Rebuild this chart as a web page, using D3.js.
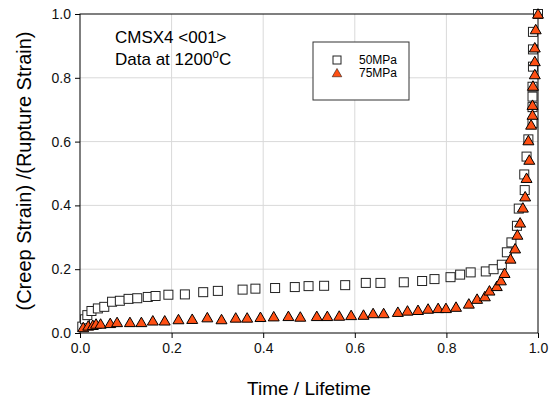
<!DOCTYPE html>
<html>
<head>
<meta charset="utf-8">
<script src="https://cdn.jsdelivr.net/npm/d3@7"></script>
<style>
  body { margin: 0; background: #fff; }
  text { font-family: Arial, "Liberation Sans", sans-serif; }
</style>
</head>
<body>
<svg width="550" height="399"></svg>
<script>
// series: time fraction / strain fraction
var t50 = [0.005, 0.011, 0.016, 0.025, 0.039, 0.053, 0.070, 0.087, 0.106, 0.125, 0.148, 0.165, 0.193, 0.229, 0.269, 0.301, 0.355, 0.383, 0.426, 0.469, 0.499, 0.533, 0.579, 0.624, 0.656, 0.707, 0.747, 0.774, 0.809, 0.830, 0.853, 0.886, 0.903, 0.921, 0.932, 0.942, 0.954, 0.958, 0.971, 0.970, 0.975, 0.979, 0.988, 0.988, 0.988, 0.988, 0.989, 0.989, 0.989, 1.0]
var v50 = [0.020, 0.043, 0.056, 0.069, 0.077, 0.082, 0.098, 0.101, 0.107, 0.109, 0.113, 0.116, 0.120, 0.121, 0.128, 0.132, 0.136, 0.139, 0.141, 0.144, 0.147, 0.148, 0.150, 0.157, 0.157, 0.159, 0.163, 0.169, 0.175, 0.183, 0.190, 0.193, 0.200, 0.214, 0.253, 0.284, 0.336, 0.390, 0.448, 0.497, 0.553, 0.607, 0.658, 0.708, 0.741, 0.772, 0.835, 0.889, 0.944, 1.0]

var t75 = [0.007, 0.018, 0.028, 0.035, 0.045, 0.066, 0.081, 0.109, 0.134, 0.159, 0.185, 0.215, 0.245, 0.278, 0.309, 0.340, 0.365, 0.394, 0.423, 0.455, 0.481, 0.517, 0.540, 0.566, 0.592, 0.619, 0.640, 0.663, 0.694, 0.715, 0.738, 0.760, 0.782, 0.799, 0.821, 0.849, 0.867, 0.884, 0.894, 0.910, 0.919, 0.927, 0.940, 0.950, 0.955, 0.961, 0.967, 0.972, 0.975, 0.981, 0.979, 0.985, 0.988, 0.988, 0.989, 0.993, 0.993, 0.993, 0.995, 1.0]
var v75 = [0.017, 0.022, 0.024, 0.028, 0.028, 0.030, 0.033, 0.033, 0.033, 0.038, 0.038, 0.042, 0.043, 0.048, 0.042, 0.047, 0.047, 0.049, 0.051, 0.052, 0.050, 0.052, 0.052, 0.053, 0.055, 0.056, 0.061, 0.061, 0.065, 0.069, 0.071, 0.075, 0.077, 0.077, 0.081, 0.091, 0.106, 0.114, 0.132, 0.146, 0.164, 0.187, 0.232, 0.264, 0.307, 0.345, 0.392, 0.427, 0.485, 0.542, 0.603, 0.652, 0.683, 0.714, 0.774, 0.810, 0.851, 0.894, 0.951, 1.0]

var ticks = [0, 0.2, 0.4, 0.6, 0.8, 1.0]
var seriesNames = ['50MPa', '75MPa']

var svg = d3.select('svg')
var mLeft = 80, mTop = 14, w = 458, h = 319

var x = d3.scaleLinear().domain([0, 1]).range([mLeft, mLeft + w])
var y = d3.scaleLinear().domain([0, 1]).range([mTop + h, mTop])

// grid
svg.append('g').selectAll('line').data(ticks.slice(1, -1)).enter().append('line')
  .attr('x1', (d) => x(d)).attr('x2', (d) => x(d))
  .attr('y1', mTop).attr('y2', mTop + h)
  .style('stroke', '#d9d9d9')
svg.append('g').selectAll('line').data(ticks.slice(1, -1)).enter().append('line')
  .attr('y1', (d) => y(d)).attr('y2', (d) => y(d))
  .attr('x1', mLeft).attr('x2', mLeft + w)
  .style('stroke', '#d9d9d9')

// frame
svg.append('rect').attr('x', mLeft).attr('y', mTop).attr('width', w).attr('height', h)
  .style('fill', 'none').style('stroke', '#000')

var xAxis = svg.append('g').attr('transform', 'translate(0,' + (mTop + h) + ')')
  .call(d3.axisBottom(x).tickValues(ticks).tickFormat(d3.format('.1f')).tickSize(5).tickSizeOuter(0))
var yAxis = svg.append('g').attr('transform', 'translate(' + mLeft + ',0)')
  .call(d3.axisLeft(y).tickValues(ticks).tickFormat(d3.format('.1f')).tickSize(5).tickSizeOuter(0))
;[xAxis, yAxis].forEach((g) => {
  g.attr('font-family', null)
  g.select('.domain').remove()
  g.selectAll('text').style('font-size', '14px').style('fill', '#111')
})
xAxis.selectAll('text').attr('y', 10)
yAxis.selectAll('text').attr('x', -9)

// markers
var tri = d3.symbol().type(d3.symbolTriangle).size(52)

svg.append('g').selectAll('rect')
  .data(d3.range(t50.length))
  .enter().append('rect')
  .attr('x', (i) => x(t50[i]) - 4.5)
  .attr('y', (i) => y(v50[i]) - 4.5)
  .attr('width', 9).attr('height', 9)
  .style('fill', '#fff').style('stroke', '#222')

svg.append('g').selectAll('path')
  .data(d3.range(t75.length))
  .enter().append('path')
  .attr('d', tri)
  .attr('transform', (i) => 'translate(' + x(t75[i]) + ',' + (y(v75[i]) + 1) + ')')
  .style('fill', '#ff5014').style('stroke', '#000')

// axis titles
svg.append('text').attr('x', x(0.5)).attr('y', 395).attr('text-anchor', 'middle')
  .style('font-size', '19px').text('Time / Lifetime')
svg.append('text').attr('transform', 'translate(31,171) rotate(-90)')
  .attr('text-anchor', 'middle').style('font-size', '20px')
  .text('(Creep Strain) /(Rupture Strain)')

// annotation
svg.append('text').attr('x', 115).attr('y', 43).style('font-size', '17px').text('CMSX4 <001>')
var note = svg.append('text').attr('x', 115).attr('y', 65).style('font-size', '17px')
note.append('tspan').text('Data at 1200')
note.append('tspan').attr('dy', -7).style('font-size', '12px').text('o')
note.append('tspan').attr('dy', 7).text('C')

// legend
var lg = svg.append('g')
lg.append('rect').attr('x', 313).attr('y', 42).attr('width', 96).attr('height', 58)
  .style('fill', '#fff').style('stroke', '#333')
lg.append('rect').attr('x', 333).attr('y', 56).attr('width', 8).attr('height', 8)
  .style('fill', '#fff').style('stroke', '#222')
lg.append('path').attr('d', d3.symbol().type(d3.symbolTriangle).size(40))
  .attr('transform', 'translate(337,74)')
  .style('fill', '#ff5014').style('stroke', '#000').style('stroke-width', 0.5)
lg.selectAll('text.lab').data(seriesNames).enter().append('text')
  .attr('x', 359).attr('y', (d, i) => 64 + i * 13)
  .style('font-size', '12px').text((d) => d)
</script>
</body>
</html>
